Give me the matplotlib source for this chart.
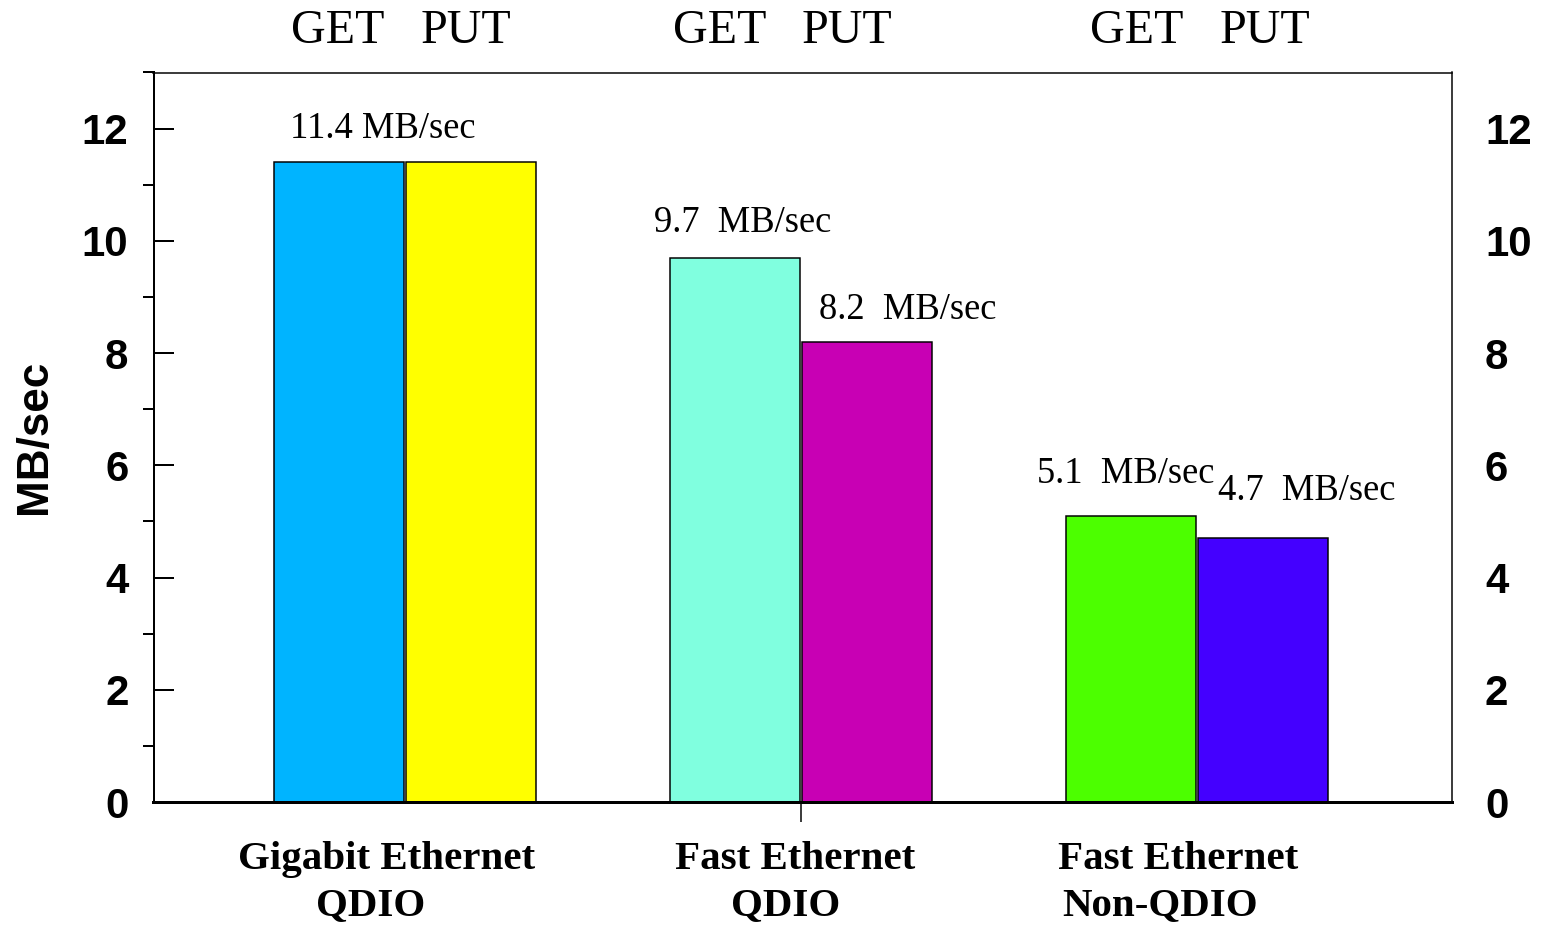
import matplotlib.pyplot as plt
import numpy as np

# throughput per adapter, MB/sec
adapters = [("Gigabit Ethernet", "QDIO"),
            ("Fast Ethernet", "QDIO"),
            ("Fast Ethernet", "Non-QDIO")]
get_rates = [11.4, 9.7, 5.1]
put_rates = [11.4, 8.2, 4.7]
get_colors = ["#00b4ff", "#80ffdf", "#4cff00"]
put_colors = ["#ffff00", "#c800b4", "#4400ff"]
yticks = [0, 2, 4, 6, 8, 10, 12]

# label spacing after the number (None = no label on that bar)
get_sep = [" ", "  ", "  "]
put_sep = [None, "  ", "  "]
# label offsets in points from the bar's top-left corner
get_off = [(16, 24), (-16, 26), (-29, 33)]
put_off = [None, (17, 23), (20, 38)]
# GET/PUT header offsets from group centre (data units)
head_off = [(-0.172, 0.152), (-0.205, 0.116), (-0.152, 0.172)]
# category label line offsets from group centre (points)
cat_off = [(-19, -35), (-6, -16), (-19, -37)]

SERIF = "Liberation Serif"
SANS = "Liberation Sans"

fig = plt.figure(figsize=(1548 / 72, 927 / 72), dpi=72)
ax = fig.add_axes([153.5 / 1548, 125 / 927, 1298.5 / 1548, 729.5 / 927])

x = np.arange(len(adapters))
w = 0.328
shift = 0.1665
get_bars = ax.bar(x - shift, get_rates, w, color=get_colors,
                  edgecolor="black", linewidth=1.5, zorder=2)
put_bars = ax.bar(x + shift, put_rates, w, color=put_colors,
                  edgecolor="black", linewidth=1.5, zorder=2)

for bars, vals, seps, offs in [(get_bars, get_rates, get_sep, get_off),
                               (put_bars, put_rates, put_sep, put_off)]:
    for b, v, s, o in zip(bars, vals, seps, offs):
        if s is None:
            continue
        ax.annotate(f"{v:.1f}{s}MB/sec", xy=(b.get_x(), v), xytext=o,
                    textcoords="offset points", ha="left", va="baseline",
                    fontsize=36.5, family=SERIF, annotation_clip=False)

# GET / PUT headers above the frame
for xi, (dg, dp) in zip(x, head_off):
    for dx, txt in [(dg, "GET"), (dp, "PUT")]:
        ax.annotate(txt, xy=(xi + dx, 1), xycoords=ax.get_xaxis_transform(),
                    xytext=(0, 29.5), textcoords="offset points",
                    ha="center", va="baseline", fontsize=48, family=SERIF,
                    annotation_clip=False)

# two-line category labels under the axis
for xi, (l1, l2), (o1, o2) in zip(x, adapters, cat_off):
    ax.annotate(l1, xy=(xi, 0), xycoords=ax.get_xaxis_transform(),
                xytext=(o1, -67), textcoords="offset points", ha="center",
                va="baseline", fontsize=41, fontweight="bold", family=SERIF,
                annotation_clip=False)
    ax.annotate(l2, xy=(xi, 0), xycoords=ax.get_xaxis_transform(),
                xytext=(o2, -113), textcoords="offset points", ha="center",
                va="baseline", fontsize=41, fontweight="bold", family=SERIF,
                annotation_clip=False)

ax.set_xlim(-0.636, 2.644)
ax.set_ylim(0, 13)
ax.set_yticks(yticks)
ax.set_yticks(np.arange(1, 14, 2), minor=True)
ax.set_xticks([1])
ax.set_xticklabels([""])

ax.tick_params(axis="y", which="major", direction="in", length=20, width=2,
               left=True, right=False, labelsize=42, pad=25)
ax.tick_params(axis="y", which="minor", direction="out", length=11, width=2,
               left=True, right=False)
ax.tick_params(axis="x", which="major", direction="out", length=20, width=1.5,
               top=False)
for lab in ax.get_yticklabels():
    lab.set_fontfamily(SANS)
    lab.set_fontweight("bold")

# same scale repeated on the right, labels only
ax2 = ax.twinx()
ax2.set_ylim(ax.get_ylim())
ax2.set_yticks(yticks)
ax2.tick_params(axis="y", which="both", length=0, labelsize=42, pad=33)
for lab in ax2.get_yticklabels():
    lab.set_fontfamily(SANS)
    lab.set_fontweight("bold")
for sp in ax2.spines.values():
    sp.set_visible(False)

ax.spines["left"].set_linewidth(2)
ax.spines["bottom"].set_linewidth(3)
ax.spines["top"].set_linewidth(1.5)
ax.spines["right"].set_linewidth(1.5)

fig.text(35 / 1548, 1 - 437 / 927, "MB/sec", rotation=90, ha="center",
         va="center", fontsize=44, fontweight="bold", family=SANS)

fig.savefig("out.png", dpi=72)
